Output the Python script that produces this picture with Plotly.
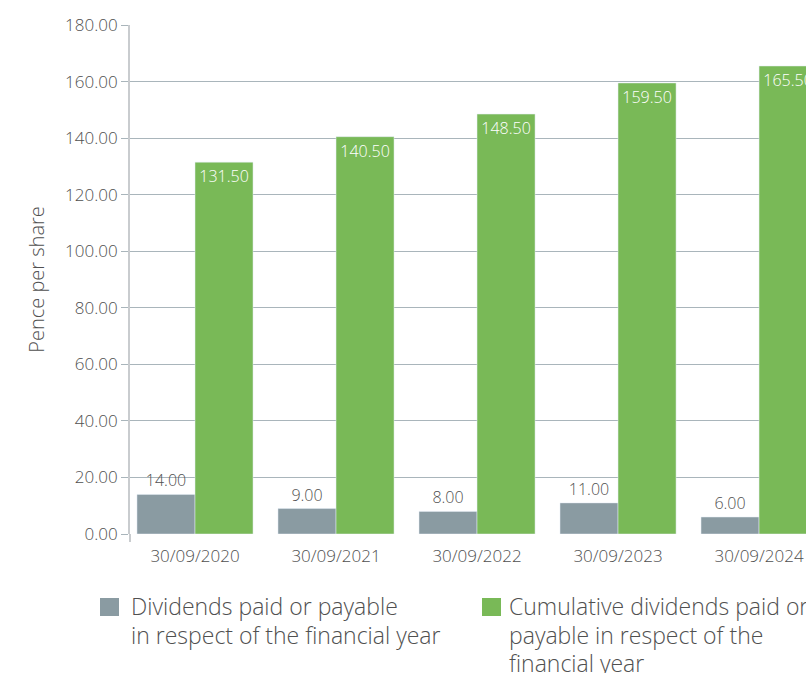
import plotly.graph_objects as go

categories = ["30/09/2020", "30/09/2021", "30/09/2022", "30/09/2023", "30/09/2024"]
dividends = [14.00, 9.00, 8.00, 11.00, 6.00]
cumulative = [131.50, 140.50, 148.50, 159.50, 165.50]
y_ticks = [0, 20, 40, 60, 80, 100, 120, 140, 160, 180]

legend_div = ["Dividends paid or payable", "in respect of the financial year"]
legend_cum = ["Cumulative dividends paid or", "payable in respect of the", "financial year"]

GRAY = "#8a9ba2"
GREEN = "#79b957"
TEXT = "#505050"
FONT = "Open Sans, Lato, sans-serif"
WT = 350

W, H = 806, 673
ML, MR, MT, MB = 130, 0, 25, 139
PW, PH = W - ML - MR, H - MT - MB


def px_x(p):
    return (p - ML) / PW


def px_y(p):
    return 1 - (p - MT) / PH


fig = go.Figure()
fig.add_trace(go.Bar(
    x=categories, y=dividends, marker_color=GRAY, showlegend=False,
    text=[f"{v:.2f}" for v in dividends], textposition="outside",
    textfont=dict(color=TEXT, size=16, family=FONT, weight=WT), cliponaxis=False,
    constraintext="none",
))
fig.add_trace(go.Bar(
    x=categories, y=cumulative, marker_color=GREEN, showlegend=False,
    text=[f"{v:.2f}" for v in cumulative], textposition="inside",
    insidetextanchor="end", textangle=0,
    textfont=dict(color="white", size=16, family=FONT, weight=WT), constraintext="none",
))

# legend drawn as shapes + text
shapes = []
annotations = []
legend_items = [(100, 131, GRAY, legend_div), (482, 509, GREEN, legend_cum)]
for sq_x, tx, col, lines in legend_items:
    shapes.append(dict(type="rect", xref="paper", yref="paper",
                       x0=px_x(sq_x), x1=px_x(sq_x + 19), y0=px_y(598), y1=px_y(616),
                       fillcolor=col, line=dict(width=0), layer="above"))
    for i, line in enumerate(lines):
        annotations.append(dict(text=line, xref="paper", yref="paper",
                                x=px_x(tx - 2), y=px_y(606 + 28.5 * i), xanchor="left", yanchor="middle",
                                showarrow=False,
                                font=dict(size=23, color=TEXT, family=FONT, weight=WT)))

# y-axis line extension below zero
shapes.append(dict(type="line", xref="paper", yref="paper", x0=0, x1=0,
                   y0=px_y(542), y1=0, line=dict(color="#c9cccf", width=2)))

fig.update_layout(
    width=W, height=H,
    margin=dict(l=ML, r=MR, t=MT, b=MB, autoexpand=False),
    plot_bgcolor="white", paper_bgcolor="white",
    font=dict(family=FONT, color=TEXT, size=16),
    barmode="group", bargap=0.177, bargroupgap=0,
    showlegend=False,
    shapes=shapes, annotations=annotations,
)
fig.update_xaxes(
    range=[-0.461, 4.333], showgrid=False, showline=False,
    ticks="outside", ticklen=7, tickcolor="rgba(0,0,0,0)",
    tickfont=dict(size=17, color=TEXT, family=FONT, weight=WT),
)
fig.update_yaxes(
    range=[0, 180], tickvals=y_ticks, ticktext=[f"{v:.2f}" for v in y_ticks],
    showgrid=True, gridcolor="#a9b5bb", gridwidth=1, zeroline=False,
    showline=True, linecolor="#c9cccf", linewidth=2,
    ticks="outside", ticklen=7, tickcolor="#a9b5bb",
    tickfont=dict(size=17, color=TEXT, family=FONT, weight=WT),
    title=dict(text="Pence per share", font=dict(size=20, color=TEXT, family=FONT, weight=WT),
               standoff=15),
)
fig.write_html("out.html")
